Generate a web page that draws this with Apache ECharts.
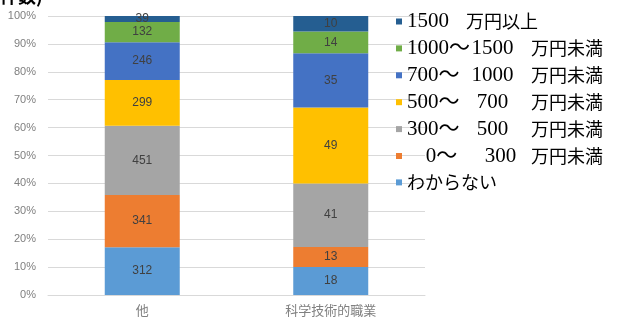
<!DOCTYPE html>
<html><head><meta charset="utf-8">
<script src="https://cdn.jsdelivr.net/npm/echarts@6/dist/echarts.min.js"></script>
<style>html,body{margin:0;padding:0;background:#fff}#c{width:619px;height:318px}</style>
</head><body><div id="c"></div>
<script>
const categories = ['他', '科学技術的職業'];
const seriesNames = ['わからない', '0～ 300 万円未満', '300～ 500 万円未満', '500～ 700 万円未満', '700～1000 万円未満', '1000～1500 万円未満', '1500 万円以上'];
const colors = ['#5B9BD5', '#ED7D31', '#A5A5A5', '#FFC000', '#4472C4', '#70AD47', '#255E91'];
const valuesOther = [312, 341, 451, 299, 246, 132, 39];
const valuesSci = [18, 13, 41, 49, 35, 14, 10];
const yTicks = [0, 10, 20, 30, 40, 50, 60, 70, 80, 90, 100];

const raw = [valuesOther, valuesSci];
const totals = raw.map(a => a.reduce((s, v) => s + v, 0));

const legendParts = {
  '1500 万円以上': '{d|1500}{e|万円以上}',
  '1000～1500 万円未満': '{a|1000～}{b|1500}{c|万円未満}',
  '700～1000 万円未満': '{a|700～}{b|1000}{c|万円未満}',
  '500～ 700 万円未満': '{a|500～}{b|700}{c|万円未満}',
  '300～ 500 万円未満': '{a|300～}{b|500}{c|万円未満}',
  '0～ 300 万円未満': '{f|0～}{g|300}{h|万円未満}',
  'わからない': '{e|わからない}'
};
const SERIF = "'Liberation Serif','Noto Sans CJK JP'";
const CJK = "'Noto Sans CJK JP'";

const chart = echarts.init(document.getElementById('c'), null, {renderer: 'canvas'});
chart.setOption({
  animation: false,
  backgroundColor: '#fff',
  graphic: [{
    type: 'text', left: 0, top: -13,
    style: {text: '件数)', font: "bold 18px 'Noto Sans CJK JP'", fill: '#000'}
  }],
  grid: {left: 48, right: 619 - 425, top: 16, bottom: 318 - 295},
  legend: {
    orient: 'vertical', left: 391, top: 6,
    itemWidth: 6, itemHeight: 6, itemGap: 5.9,
    icon: 'rect',
    data: seriesNames.slice().reverse(),
    formatter: n => legendParts[n],
    textStyle: {
      color: '#000', lineHeight: 20,
      rich: {
        a: {width: 64, align: 'left', fontFamily: SERIF, fontSize: 21, lineHeight: 20, color: '#000'},
        b: {width: 43, align: 'right', fontFamily: SERIF, fontSize: 21, lineHeight: 20, color: '#000'},
        c: {padding: [0, 0, 0, 17], fontFamily: CJK, fontSize: 18, lineHeight: 20, color: '#000'},
        f: {width: 69, align: 'right', fontFamily: SERIF, fontSize: 21, lineHeight: 20, color: '#000'},
        g: {width: 49, align: 'right', fontFamily: SERIF, fontSize: 21, lineHeight: 20, color: '#000'},
        h: {padding: [0, 0, 0, 6], fontFamily: CJK, fontSize: 18, lineHeight: 20, color: '#000'},
        d: {width: 59, align: 'left', fontFamily: SERIF, fontSize: 21, lineHeight: 20, color: '#000'},
        e: {fontFamily: CJK, fontSize: 18, lineHeight: 20, color: '#000'}
      }
    }
  },
  xAxis: {
    type: 'category', data: categories,
    axisLine: {lineStyle: {color: '#D9D9D9'}},
    axisTick: {show: false},
    axisLabel: {color: '#808080', fontSize: 13, fontFamily: CJK, margin: 9}
  },
  yAxis: {
    type: 'value', min: 0, max: 100, interval: 10,
    axisLabel: {color: '#808080', fontSize: 11, fontFamily: "'Liberation Sans'", margin: 12,
      formatter: v => yTicks.includes(v) ? v + '%' : ''},
    splitLine: {lineStyle: {color: '#D9D9D9'}},
    axisLine: {show: false}, axisTick: {show: false}
  },
  series: seriesNames.map((name, i) => ({
    name, type: 'bar', stack: 'total', barWidth: 75,
    itemStyle: {color: colors[i]},
    label: {
      show: true, position: 'inside', color: '#404040', fontSize: 12,
      fontFamily: "'Liberation Sans'",
      formatter: p => String(raw[p.dataIndex][i])
    },
    data: raw.map((arr, k) => arr[i] / totals[k] * 100)
  }))
});
</script></body></html>
